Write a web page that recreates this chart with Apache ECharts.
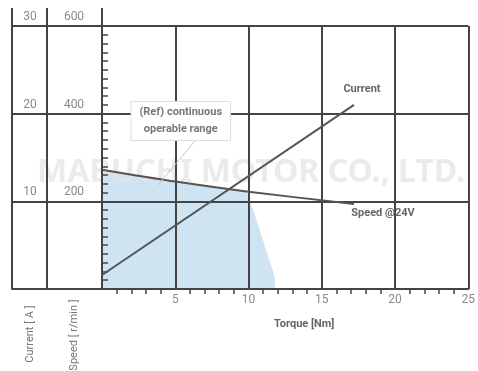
<!DOCTYPE html>
<html>
<head>
<meta charset="utf-8">
<script src="https://cdn.jsdelivr.net/npm/echarts@6/dist/echarts.min.js"></script>
<style>
  html, body { margin: 0; padding: 0; background: #fff; }
  #chart { width: 478px; height: 371px; }
</style>
</head>
<body>
<div id="chart"></div>
<script>
// values
var currentLine = [[0, 1.6], [17.2, 21.0]];               // torque Nm, current A
var speedLine = [[0, 272], [5, 245], [10, 222], [17.2, 194]]; // torque Nm, speed r/min
var rangeEdge = [[0, 272], [2.5, 258], [5, 245], [7.5, 233], [9.9, 222],
                 [10.1, 200], [10.4, 172], [11.1, 100], [11.8, 27], [11.8, 0]];
var pointerLine = [[3.8, 11.8], [6.4, 17.0]];
var rangeText = '(Ref) continuous\noperable range';

var gridColor = '#444';
var labelColor = '#8a8a8a';
var fontName = 'Roboto';

var chart = echarts.init(document.getElementById('chart'));

// put a text label on the last point of a line
function withEndLabel(points, label) {
    return points.map(function (p, i) {
        if (i === points.length - 1) {
            return { value: p, label: Object.assign({ show: true }, label) };
        }
        return p;
    });
}

var option = {
    animation: false,
    textStyle: { fontFamily: fontName },
    grid: [
        { left: 102, right: 6, top: 26, bottom: 82 },
        { left: 12, width: 90, top: 26, bottom: 82 }
    ],
    xAxis: [
        {
            gridIndex: 0, type: 'value', min: 0, max: 25, interval: 5, z: 3,
            name: 'Torque [Nm]', nameLocation: 'middle', nameGap: 30,
            nameTextStyle: { color: '#666', fontSize: 11, fontWeight: 'bold', padding: [0, 0, 0, 38] },
            axisLine: { lineStyle: { color: gridColor, width: 2 } },
            axisTick: { show: false },
            minorTick: { show: true, splitNumber: 5, length: 5, lineStyle: { color: gridColor, width: 1.5 } },
            axisLabel: { showMinLabel: false, color: labelColor, fontSize: 12, margin: 5 },
            splitLine: { show: true, lineStyle: { color: gridColor, width: 2 } }
        },
        { gridIndex: 1, type: 'value', min: 0, max: 1, show: false }
    ],
    yAxis: [
        {
            // current, main plot
            gridIndex: 0, type: 'value', min: 0, max: 30, interval: 10, z: 3,
            axisLine: { show: true, lineStyle: { color: gridColor, width: 2 } },
            axisTick: { show: true, inside: true, length: 6, lineStyle: { color: gridColor, width: 1.5 } },
            minorTick: { show: true, splitNumber: 10, length: 6, lineStyle: { color: gridColor, width: 1.5 } },
            axisLabel: { show: false },
            splitLine: { show: true, lineStyle: { color: gridColor, width: 2 } }
        },
        {
            // speed, main plot (hidden scale)
            gridIndex: 0, type: 'value', min: 0, max: 600, interval: 200, show: false
        },
        {
            // current label column
            gridIndex: 1, type: 'value', min: 0, max: 30, interval: 10, position: 'left', z: 3,
            axisLine: { show: true, lineStyle: { color: gridColor, width: 2 } },
            axisTick: { show: false },
            axisLabel: {
                inside: true, margin: 18, align: 'center', verticalAlign: 'bottom',
                showMinLabel: false, color: labelColor, fontSize: 12, padding: [0, 0, 3, 0]
            },
            splitLine: { show: true, lineStyle: { color: gridColor, width: 2 } }
        },
        {
            // speed label column
            gridIndex: 1, type: 'value', min: 0, max: 600, interval: 200, position: 'left', offset: -35, z: 3,
            axisLine: { show: true, lineStyle: { color: gridColor, width: 2 } },
            axisTick: { show: false },
            axisLabel: {
                inside: true, margin: 27, align: 'center', verticalAlign: 'bottom',
                showMinLabel: false, color: labelColor, fontSize: 12, padding: [0, 0, 3, 0]
            },
            splitLine: { show: false }
        }
    ],
    graphic: [
        // watermark
        {
            type: 'text', x: 251, y: 173, z: 2, silent: true,
            style: {
                text: 'MABUCHI MOTOR CO., LTD.',
                fill: 'rgba(226,226,226,0.7)',
                font: 'bold 32px "Noto Sans"',
                align: 'center', verticalAlign: 'middle'
            }
        },
        // frame extensions above the top line
        { type: 'line', z: 3, shape: { x1: 12, y1: 8, x2: 12, y2: 26 }, style: { stroke: gridColor, lineWidth: 2 } },
        { type: 'line', z: 3, shape: { x1: 47, y1: 8, x2: 47, y2: 26 }, style: { stroke: gridColor, lineWidth: 2 } },
        { type: 'line', z: 3, shape: { x1: 102, y1: 8, x2: 102, y2: 26 }, style: { stroke: gridColor, lineWidth: 2 } },
        // vertical axis names
        {
            type: 'text', x: 30, y: 334, rotation: Math.PI / 2, z: 3,
            style: { text: 'Current [ A ]', fill: '#777', font: '11px Roboto', align: 'center', verticalAlign: 'middle' }
        },
        {
            type: 'text', x: 74, y: 335, rotation: Math.PI / 2, z: 3,
            style: { text: 'Speed [ r/min ]', fill: '#777', font: '11px Roboto', align: 'center', verticalAlign: 'middle' }
        }
    ],
    series: [
        {
            name: 'range', type: 'line', xAxisIndex: 0, yAxisIndex: 1, z: 1, silent: true,
            data: rangeEdge, symbol: 'none',
            lineStyle: { width: 0 },
            areaStyle: { color: '#cfe4f2', opacity: 1 }
        },
        {
            name: 'Current', type: 'line', xAxisIndex: 0, yAxisIndex: 0, z: 4,
            data: withEndLabel(currentLine, {
                formatter: 'Current', position: 'top', distance: 5, offset: [8, -5],
                color: '#666', fontSize: 11, fontWeight: 'bold'
            }),
            symbol: 'circle', symbolSize: 0, showSymbol: true,
            itemStyle: { color: 'rgba(0,0,0,0)' },
            lineStyle: { color: '#555', width: 2 }
        },
        {
            name: 'Speed', type: 'line', xAxisIndex: 0, yAxisIndex: 1, z: 4,
            data: withEndLabel(speedLine, {
                formatter: 'Speed @24V', position: 'bottom', distance: 5, offset: [29, -1],
                color: '#666', fontSize: 11, fontWeight: 'bold'
            }),
            smooth: 0.3, symbol: 'circle', symbolSize: 0, showSymbol: true,
            itemStyle: { color: 'rgba(0,0,0,0)' },
            lineStyle: { color: '#555', width: 2 }
        },
        {
            name: 'pointer', type: 'line', xAxisIndex: 0, yAxisIndex: 0, z: 5, silent: true,
            data: withEndLabel(pointerLine, {
                formatter: rangeText, position: 'top', distance: 0, offset: [-15, 0],
                color: '#777', fontSize: 11, fontWeight: 'bold', lineHeight: 17, align: 'center',
                backgroundColor: '#fff', borderColor: '#ddd', borderWidth: 1, padding: [2, 8]
            }),
            symbol: 'circle', symbolSize: 0, showSymbol: true,
            itemStyle: { color: 'rgba(0,0,0,0)' },
            lineStyle: { color: '#c4c4c4', width: 1 }
        }
    ]
};

chart.setOption(option);
</script>
</body>
</html>
